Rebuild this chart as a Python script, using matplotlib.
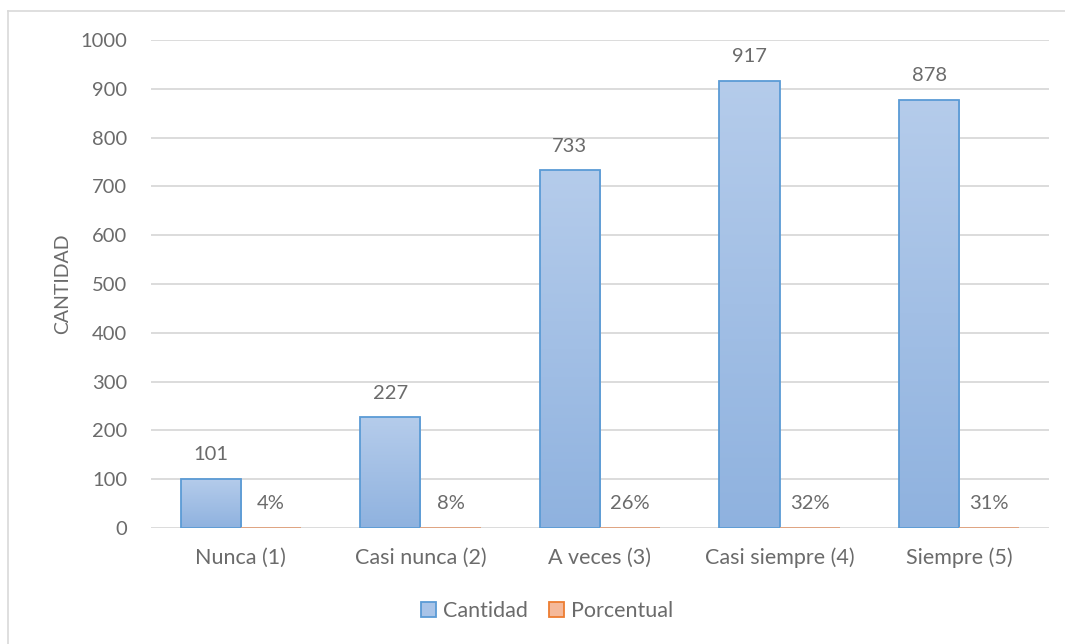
import numpy as np
import matplotlib.pyplot as plt
from matplotlib.lines import Line2D
from matplotlib.patches import Patch

categories = ['Nunca (1)', 'Casi nunca (2)', 'A veces (3)', 'Casi siempre (4)', 'Siempre (5)']
cantidad = [101, 227, 733, 917, 878]
porcentual = [0.04, 0.08, 0.26, 0.32, 0.31]
porcentual_labels = ['4%', '8%', '26%', '32%', '31%']
yticks = [0, 100, 200, 300, 400, 500, 600, 700, 800, 900, 1000]

plt.rcParams['font.family'] = ['Lato', 'DejaVu Sans']
text_color = '#6b6b6b'
fs = 14.5

fig = plt.figure(figsize=(10.65, 6.44), dpi=100)
ax = fig.add_axes([151 / 1065, 1 - 528 / 644, 898 / 1065, 488 / 644])

# outer chart border (only left and top fall inside the image)
fig.add_artist(Line2D([8 / 1065, 8 / 1065], [0, 1 - 11 / 644],
                      transform=fig.transFigure, color='#d9d9d9', lw=1.2))
fig.add_artist(Line2D([8 / 1065, 1], [1 - 11 / 644, 1 - 11 / 644],
                      transform=fig.transFigure, color='#d9d9d9', lw=1.2))

x = np.arange(len(categories))
w = 0.335

grad = np.linspace(0, 1, 256).reshape(-1, 1)


def gradient_bar(xc, h, top_col, bot_col, edge):
    bar = ax.bar(xc, h, w, facecolor='none', edgecolor=edge, lw=1.3, zorder=3)[0]
    top = np.array(plt.matplotlib.colors.to_rgb(top_col))
    bot = np.array(plt.matplotlib.colors.to_rgb(bot_col))
    img = top + (bot - top) * grad[:, :, None] * np.ones((1, 1, 3))
    im = ax.imshow(img, extent=[xc - w / 2, xc + w / 2, 0, max(h, 0.001)],
                   aspect='auto', origin='upper', zorder=2)
    im.set_clip_path(bar)
    return bar


for i in range(len(categories)):
    gradient_bar(x[i] - w / 2, cantidad[i], '#b5cceb', '#8fb2df', '#5b9bd5')
    gradient_bar(x[i] + w / 2, porcentual[i], '#f6c3a4', '#f3a981', '#e0a07a')
    ax.text(x[i] - w / 2, cantidad[i] + 32, str(cantidad[i]), ha='center',
            va='bottom', fontsize=fs, color=text_color)
    ax.text(x[i] + w / 2, porcentual[i] + 32, porcentual_labels[i], ha='center',
            va='bottom', fontsize=fs, color=text_color)

ax.set_xlim(-0.5, len(categories) - 0.5)
ax.set_ylim(0, 1000)
ax.set_yticks(yticks)
ax.set_xticks(x)
ax.set_xticklabels(categories)
ax.tick_params(axis='both', length=0, labelsize=fs, labelcolor=text_color)
ax.tick_params(axis='x', labelsize=15.5, pad=14)
ax.tick_params(axis='y', pad=17)
ax.yaxis.grid(True, color='#d9d9d9', lw=1.3)
ax.set_axisbelow(True)
for s in ax.spines.values():
    s.set_visible(False)
ax.set_ylabel('CANTIDAD', fontsize=14, color=text_color, labelpad=7)

handles = [Patch(facecolor='#a9c4e8', edgecolor='#5b9bd5', lw=1.3),
           Patch(facecolor='#f5b99a', edgecolor='#ed7d31', lw=1.3)]
fig.legend(handles, ['Cantidad', 'Porcentual'], loc='center',
           bbox_to_anchor=(547 / 1065, 1 - 611 / 644), ncol=2, frameon=False,
           fontsize=15.5, labelcolor=text_color, handlelength=0.7,
           handleheight=0.7, handletextpad=0.3, columnspacing=1.0)

fig.savefig('out.png', dpi=100, facecolor='white')
